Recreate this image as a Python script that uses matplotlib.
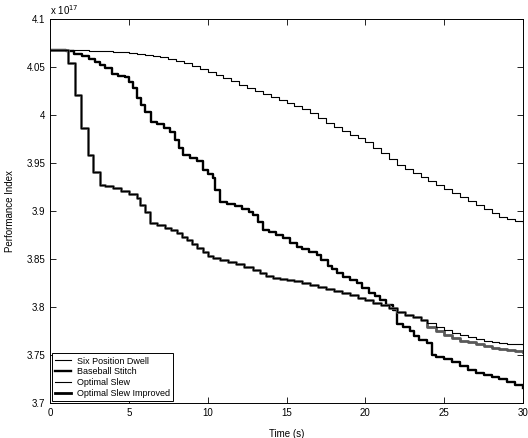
import matplotlib
matplotlib.use('Agg')
import matplotlib.pyplot as plt

plt.rcParams['font.family'] = ['Liberation Sans', 'DejaVu Sans']

# Six Position Dwell (valores em unidades de 1e17)
t_dwell = [0, 0.5, 1, 1.5, 2, 2.5, 3, 3.5, 4, 4.5, 5, 5.5, 6, 6.5, 7, 7.5, 8, 8.5, 9, 9.5,
           10, 10.5, 11, 11.5, 12, 12.5, 13, 13.5, 14, 14.5, 15, 15.5, 16, 16.5, 17, 17.5,
           18, 18.5, 19, 19.5, 20, 20.5, 21, 21.5, 22, 22.5, 23, 23.5, 24, 24.5, 25, 25.5,
           26, 26.5, 27, 27.5, 28, 28.5, 29, 29.5, 30]
v_dwell = [4.068, 4.068, 4.0678, 4.0675, 4.0672, 4.0668, 4.0665, 4.066, 4.0655, 4.065,
           4.0644, 4.0636, 4.0627, 4.0615, 4.060, 4.0585, 4.0565, 4.0535, 4.051, 4.048,
           4.045, 4.0415, 4.038, 4.0348, 4.0315, 4.0282, 4.025, 4.0218, 4.0187, 4.0155,
           4.0123, 4.0092, 4.006, 4.0015, 3.997, 3.992, 3.987, 3.983, 3.979, 3.9755,
           3.9715, 3.966, 3.960, 3.954, 3.948, 3.9435, 3.939, 3.935, 3.9315, 3.927,
           3.923, 3.919, 3.9145, 3.9105, 3.906, 3.902, 3.898, 3.894, 3.8915, 3.889, 3.887]

# Baseball Stitch
t_stitch = [0, 0.5, 1.0, 1.5, 2.0, 2.5, 2.85, 3.2, 3.5, 3.9, 4.3, 4.75, 5.0, 5.26, 5.5,
            5.8, 6.0, 6.4, 6.8, 7.2, 7.6, 7.93, 8.2, 8.43, 8.9, 9.32, 9.7, 10.0, 10.34,
            10.46, 10.78, 11.2, 11.7, 12.2, 12.6, 12.87, 13.2, 13.5, 13.9, 14.3, 14.77,
            15.2, 15.66, 16.0, 16.4, 16.93, 17.2, 17.6, 17.9, 18.2, 18.6, 19.0, 19.47,
            19.8, 20.2, 20.6, 20.93, 21.3, 21.75, 22.0, 22.4, 22.8, 23.1, 23.4, 23.9, 24.2,
            24.5, 25.0, 25.5, 26.0, 26.5, 27.0, 27.5, 28.0, 28.5, 29.0, 29.5, 30]
v_stitch = [4.068, 4.0675, 4.066, 4.0635, 4.061, 4.058, 4.055, 4.052, 4.049, 4.043,
            4.040, 4.039, 4.034, 4.028, 4.0177, 4.010, 4.003, 3.993, 3.990, 3.986, 3.982,
            3.974, 3.966, 3.958, 3.955, 3.952, 3.943, 3.938, 3.934, 3.922, 3.909, 3.907,
            3.905, 3.902, 3.899, 3.896, 3.888, 3.880, 3.878, 3.875, 3.872, 3.867, 3.8625,
            3.860, 3.857, 3.854, 3.849, 3.843, 3.839, 3.835, 3.831, 3.828, 3.825, 3.820,
            3.815, 3.811, 3.807, 3.802, 3.797, 3.782, 3.779, 3.775, 3.770, 3.766, 3.7625,
            3.750, 3.748, 3.746, 3.743, 3.739, 3.734, 3.731, 3.729, 3.727, 3.725, 3.722,
            3.719, 3.716]

# Optimal Slew
t_slew = [0, 1.12, 1.6, 1.95, 2.4, 2.7, 3.17, 3.5, 4.0, 4.5, 5.0, 5.52, 5.7, 6.0, 6.34,
          6.8, 7.3, 7.7, 8.05, 8.4, 8.69, 9.0, 9.32, 9.7, 10.0, 10.34, 10.8, 11.3, 11.8,
          12.3, 12.87, 13.3, 13.7, 14.14, 14.6, 15, 15.5, 16, 16.5, 17, 17.5, 18, 18.5,
          19, 19.5, 20, 20.5, 21, 21.5, 22, 22.5, 23, 23.5, 23.9, 24.5, 25, 25.5, 26,
          26.5, 27, 27.5, 28, 28.5, 29, 29.5, 30]
v_slew = [4.068, 4.054, 4.021, 3.986, 3.958, 3.941, 3.927, 3.926, 3.924, 3.921, 3.918,
          3.9135, 3.906, 3.899, 3.8875, 3.885, 3.8825, 3.880, 3.877, 3.873, 3.8697,
          3.866, 3.8615, 3.857, 3.853, 3.851, 3.849, 3.847, 3.845, 3.842, 3.8385, 3.835,
          3.832, 3.830, 3.829, 3.828, 3.8265, 3.8245, 3.823, 3.821, 3.819, 3.8165, 3.814,
          3.812, 3.8095, 3.807, 3.8045, 3.802, 3.7985, 3.795, 3.792, 3.789, 3.786, 3.783,
          3.779, 3.776, 3.773, 3.7705, 3.7685, 3.7665, 3.765, 3.7635, 3.7625, 3.7615,
          3.761, 3.760]

# Optimal Slew Improved (igual ao Optimal Slew ate ~24 s)
t_improved = t_slew[:54] + [24.5, 25, 25.5, 26, 26.5, 27, 27.5, 28, 28.5, 29, 29.5, 30]
v_improved = v_slew[:53] + [3.779, 3.7745, 3.771, 3.768, 3.765, 3.763, 3.761, 3.759,
                            3.7575, 3.756, 3.755, 3.754, 3.7535]

fig = plt.figure(figsize=(5.28, 4.38), dpi=100)
ax = fig.add_axes([0.0947, 0.080, 0.896, 0.877])

l1, = ax.step(t_dwell, v_dwell, where='post', color='black', lw=0.8, label='Six Position Dwell')
l2, = ax.step(t_stitch, v_stitch, where='post', color='black', lw=1.7, label='Baseball Stitch')
l4, = ax.step(t_improved, v_improved, where='post', color='0.35', lw=2.0,
              label='Optimal Slew Improved')
l3, = ax.step(t_slew, v_slew, where='post', color='black', lw=0.8, label='Optimal Slew')

ax.set_xlim(0, 30)
ax.set_ylim(3.7, 4.1)
ax.set_xticks([0, 5, 10, 15, 20, 25, 30])
yt = [3.7, 3.75, 3.8, 3.85, 3.9, 3.95, 4.0, 4.05, 4.1]
ax.set_yticks(yt)
ax.set_yticklabels(['3.7', '3.75', '3.8', '3.85', '3.9', '3.95', '4', '4.05', '4.1'])
ax.tick_params(direction='in', top=True, right=True, labelsize=7, length=4, width=0.6)
for s in ax.spines.values():
    s.set_linewidth(0.7)

ax.text(0.0, 1.006, r'x 10$^{17}$', transform=ax.transAxes, fontsize=7, va='bottom')
ax.set_xlabel('Time (s)', fontsize=7, labelpad=8)
ax.set_ylabel('Performance Index', fontsize=7, labelpad=8)

leg_lines = [l1, l2, l3, plt.Line2D([], [], color='black', lw=2.0)]
leg = ax.legend(leg_lines, ['Six Position Dwell', 'Baseball Stitch', 'Optimal Slew',
                            'Optimal Slew Improved'],
                loc='lower left', fontsize=6.5, handlelength=1.8, borderaxespad=0.2,
                fancybox=False, edgecolor='black', framealpha=1, labelspacing=0.2,
                borderpad=0.35, handletextpad=0.6)
leg.get_frame().set_linewidth(0.7)

fig.savefig('out.png', dpi=100)
